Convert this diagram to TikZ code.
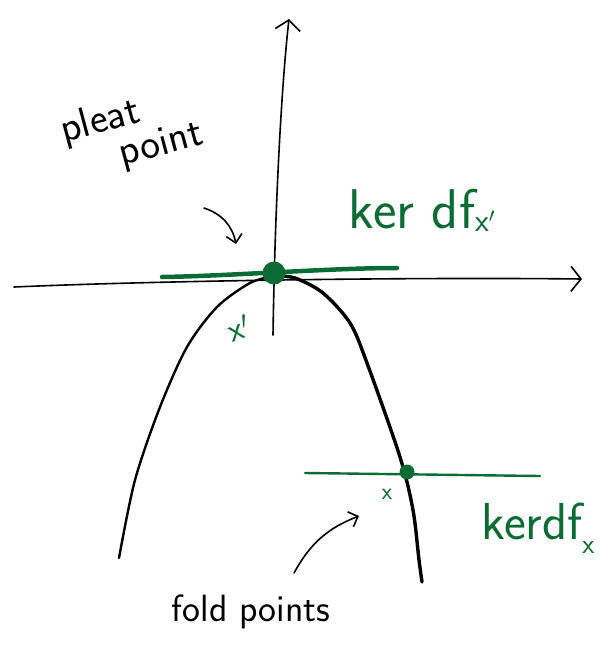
\documentclass[tikz,border=0pt]{standalone}
\usetikzlibrary{arrows.meta}
\definecolor{KerGreen}{HTML}{0B6B35}

\begin{document}
\begin{tikzpicture}[x=1pt, y=-1pt,
  axis/.style={line width=1.6pt, line cap=round, -{Straight Barb[length=10pt, width=25pt, line width=1.6pt]}},
  fold/.style={line cap=round, line join=round},
  kerline/.style={draw=KerGreen, line cap=round},
  dot/.style={circle, fill=KerGreen, minimum size=23pt, inner sep=0pt},
  hand/.style={font=\sffamily\fontsize{38}{40}\selectfont, inner sep=0pt},
  green/.style={hand, text=KerGreen},
  pointer/.style={line width=1.6pt, line cap=round, -{Straight Barb[length=8pt, width=16pt, line width=1.6pt]}}
]
\useasboundingbox (0,0) rectangle (601,653);

% axes
\coordinate (xl) at (14,287);
\coordinate (xr) at (582,279);
\coordinate (yb) at (273,335);
\coordinate (yt) at (289,19);
\draw[axis] (xl) .. controls (150,281) and (400,277) .. (xr);
\draw[axis] (yb) .. controls (275,200) and (282,80) .. (yt);

% the fold curve
\coordinate (top) at (274,276);
\draw[fold, line width=2.4pt] plot[smooth] coordinates
  {(119,558) (135,480) (160,407) (187,347) (217,307) (250,283) (top)};
\draw[fold, line width=3.4pt] plot[smooth] coordinates
  {(top) (295,278) (323,293) (350,323) (367,363) (400,457) (413,510) (419,560) (422,582)};

% kernels
\coordinate (k1l) at (162,277);
\coordinate (k1r) at (397,268);
\coordinate (k2l) at (305,473);
\coordinate (k2r) at (540,476);
\draw[kerline, line width=4.5pt] (k1l) .. controls (230,276) and (330,268) .. (k1r);
\draw[kerline, line width=2.4pt] (k2l) -- (k2r);
\node[dot] (pleat) at (274,273) {};
\node[dot, minimum size=15pt] (foldpt) at (407,472) {};

% labels
\node[hand, font=\sffamily\fontsize{42}{38}\selectfont, align=left, rotate=15] (pleatlbl) at (132,133) {pleat\\\hspace*{1.2em}point};
\node[green, font=\sffamily\fontsize{56}{60}\selectfont] (kertop) at (422,210) {ker df\raisebox{-3pt}{\fontsize{32}{34}\selectfont x$'$}};
\node[green, font=\sffamily\fontsize{34}{36}\selectfont, rotate=20] (xp) at (239,328) {x$'$};
\node[green, font=\sffamily\fontsize{24}{26}\selectfont] (xlbl) at (387,494) {x};
\node[green, font=\sffamily\fontsize{52}{56}\selectfont] (kerbot) at (538,528) {kerdf\raisebox{-14pt}{\fontsize{28}{30}\selectfont x}};
\node[hand] (foldlbl) at (251,612) {fold points};

% pointers
\coordinate (pa) at (204,208);
\coordinate (pb) at (236,244);
\coordinate (fa) at (294,573);
\coordinate (fb) at (359,516);
\draw[pointer] (pa) to[bend left=30] (pb);
\draw[pointer] (fa) to[bend left=20] (fb);
\end{tikzpicture}
\end{document}
